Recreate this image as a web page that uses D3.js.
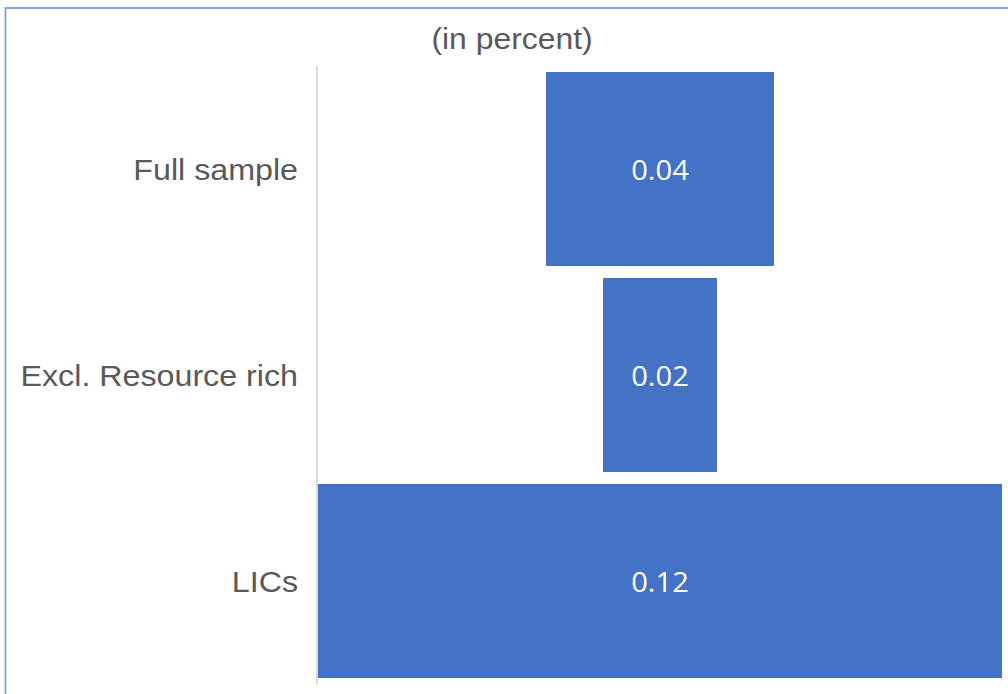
<!DOCTYPE html>
<html>
<head>
<meta charset="utf-8">
<script src="https://cdn.jsdelivr.net/npm/d3@7"></script>
<style>
  html, body { margin: 0; padding: 0; background: #fff; }
  svg { display: block; }
</style>
</head>
<body>
<svg id="chart" width="1008" height="694"></svg>
<script>
// Categories and values (percent)
const categories = ["Full sample", "Excl. Resource rich", "LICs"];
const values = [0.04, 0.02, 0.12];
const valueLabels = ["0.04", "0.02", "0.12"];
const subtitle = "(in percent)";

const svg = d3.select("#chart");
const W = 1008, H = 694;
const axisX = 317;

// Frame around the chart area
svg.append("rect")
  .attr("x", 5.5).attr("y", 8)
  .attr("width", W + 10).attr("height", H + 10)
  .attr("fill", "#fff")
  .attr("stroke", "#7b9fe2")
  .attr("stroke-width", 1.8);

// Scales: bars are centred, funnel style
const maxV = d3.max(values);
const x = d3.scaleLinear().domain([-maxV / 2, maxV / 2]).range([318, 1002]);
const y = d3.scaleBand().domain(categories).range([66, 684])
  .paddingInner(0.058).paddingOuter(0.029);

// Category axis line
svg.append("line")
  .attr("x1", axisX).attr("x2", axisX)
  .attr("y1", y.range()[0]).attr("y2", y.range()[1])
  .attr("stroke", "#d9d9d9").attr("stroke-width", 2);

const data = categories.map((c, i) => ({ c, v: values[i], label: valueLabels[i] }));

svg.append("g").selectAll("rect").data(data).join("rect")
  .attr("x", d => x(-d.v / 2))
  .attr("y", d => y(d.c))
  .attr("width", d => x(d.v / 2) - x(-d.v / 2))
  .attr("height", y.bandwidth())
  .attr("fill", "#4472c4");

const sx = 1.1;

// Category labels
svg.append("g").selectAll("text").data(data).join("text")
  .attr("transform", d => `translate(298,${y(d.c) + y.bandwidth() / 2 + 11}) scale(${sx},1)`)
  .attr("text-anchor", "end")
  .attr("font-family", "'Liberation Sans', Arial, sans-serif")
  .attr("font-size", 29.3)
  .attr("fill", "#595959")
  .text(d => d.c);

// Value labels inside bars
svg.append("g").selectAll("text").data(data).join("text")
  .attr("transform", d => `translate(${x(0)},${y(d.c) + y.bandwidth() / 2 + 11}) scale(${sx},1)`)
  .attr("text-anchor", "middle")
  .attr("font-family", "'Open Sans', sans-serif")
  .attr("font-size", 26.5)
  .attr("fill", "#ffffff")
  .text(d => d.label);

// Subtitle
svg.append("text")
  .attr("transform", `translate(512,49) scale(${sx},1)`)
  .attr("text-anchor", "middle")
  .attr("font-family", "'Liberation Sans', Arial, sans-serif")
  .attr("font-size", 29)
  .attr("fill", "#595959")
  .text(subtitle);
</script>
</body>
</html>
